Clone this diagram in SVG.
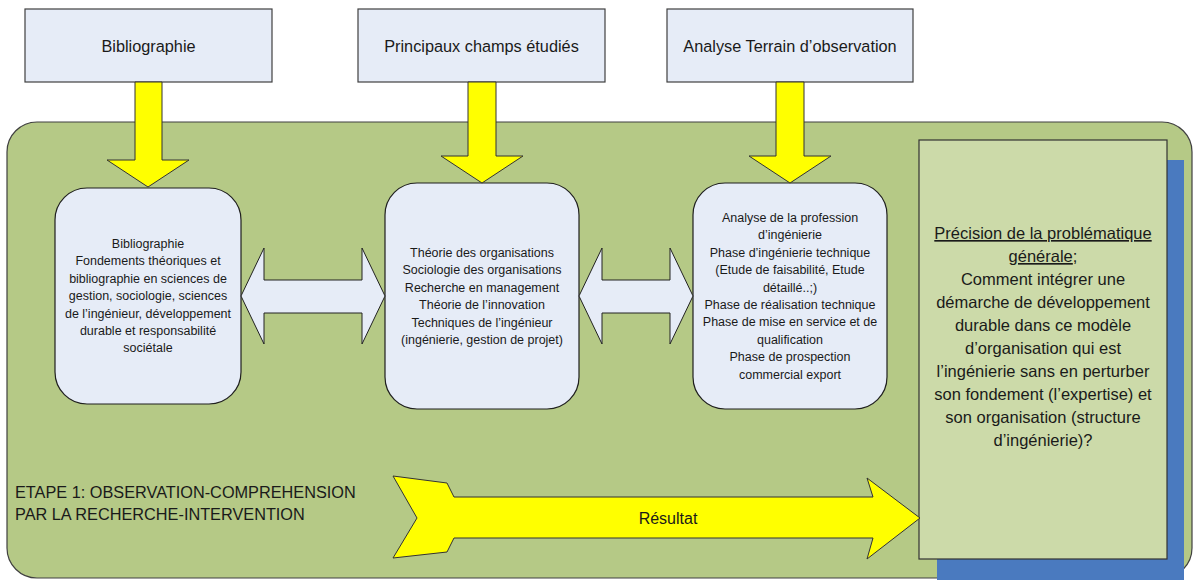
<svg xmlns="http://www.w3.org/2000/svg" width="1195" height="581" viewBox="0 0 1195 581">
<style>
text{font-family:"Liberation Sans",Arial,sans-serif;fill:#1a1a1a;text-anchor:middle}
.top{fill:#e6ecf7;stroke:#404040;stroke-width:1.2}
.inner{fill:#e6ecf7;stroke:#1f1f1f;stroke-width:1.2}
.yel{fill:#ffff00;stroke:#333;stroke-width:1}
.dbl{fill:#e6ecf7;stroke:#222;stroke-width:1}
.t16{font-size:16.3px}
.t12{font-size:12.5px}
.t165{font-size:16.5px}
</style>
<rect width="1195" height="581" fill="#ffffff"/>
<g id="stage">
<rect x="7" y="122" width="1185" height="456" rx="30" fill="#b5c986" stroke="#404040" stroke-width="1.2"/>
<text class="t16" x="15" y="498" style="text-anchor:start">ETAPE 1: OBSERVATION-COMPREHENSION</text>
<text class="t16" x="15" y="520" style="text-anchor:start">PAR LA RECHERCHE-INTERVENTION</text>
</g>
<g id="top-biblio">
<rect class="top" x="25" y="9" width="247" height="73"/>
<text class="t16" x="148.5" y="52">Bibliographie</text>
</g>
<g id="top-champs">
<rect class="top" x="358" y="9" width="247" height="73"/>
<text class="t16" x="481.5" y="52">Principaux champs étudiés</text>
</g>
<g id="top-terrain">
<rect class="top" x="667" y="9" width="246" height="73"/>
<text class="t16" x="790" y="52">Analyse Terrain d’observation</text>
</g>
<g id="box-biblio">
<rect class="inner" x="55" y="188" width="186" height="216" rx="32"/>
<text class="t12" x="148"><tspan x="148" y="248">Bibliographie</tspan><tspan x="148" y="265.4">Fondements théoriques et</tspan><tspan x="148" y="282.8">bibliographie en sciences de</tspan><tspan x="148" y="300.2">gestion, sociologie, sciences</tspan><tspan x="148" y="317.6">de l’ingénieur, développement</tspan><tspan x="148" y="335">durable et responsabilité</tspan><tspan x="148" y="352.4">sociétale</tspan></text>
</g>
<g id="box-champs">
<rect class="inner" x="385" y="183" width="194" height="226" rx="32"/>
<text class="t12" x="482"><tspan x="482" y="257">Théorie des organisations</tspan><tspan x="482" y="274.4">Sociologie des organisations</tspan><tspan x="482" y="291.8">Recherche en management</tspan><tspan x="482" y="309.2">Théorie de l’innovation</tspan><tspan x="482" y="326.6">Techniques de l’ingénieur</tspan><tspan x="482" y="344">(ingénierie, gestion de projet)</tspan></text>
</g>
<g id="box-terrain">
<rect class="inner" x="693" y="183" width="194" height="226" rx="32"/>
<text class="t12" x="790"><tspan x="790" y="222">Analyse de la profession</tspan><tspan x="790" y="239.4">d’ingénierie</tspan><tspan x="790" y="256.8">Phase  d’ingénierie technique</tspan><tspan x="790" y="274.2">(Etude de faisabilité, Etude</tspan><tspan x="790" y="291.6">détaillé..;)</tspan><tspan x="790" y="309">Phase de réalisation technique</tspan><tspan x="790" y="326.4">Phase de mise en service et de</tspan><tspan x="790" y="343.8">qualification</tspan><tspan x="790" y="361.2">Phase de prospection</tspan><tspan x="790" y="378.6">commercial export</tspan></text>
</g>
<g id="box-problematique">
<rect x="937" y="160" width="247" height="420" fill="#4a7abf"/>
<rect x="919" y="140" width="248" height="419" fill="#ccdaa9" stroke="#333" stroke-width="1.2"/>
<text class="t165" x="1043"><tspan x="1043" y="239" text-decoration="underline">Précision de la problématique</tspan><tspan x="1043" y="262"><tspan text-decoration="underline">générale</tspan>;</tspan><tspan x="1043" y="285">Comment intégrer une</tspan><tspan x="1043" y="308">démarche de développement</tspan><tspan x="1043" y="331">durable dans ce modèle</tspan><tspan x="1043" y="354">d’organisation qui est</tspan><tspan x="1043" y="377">l’ingénierie sans en perturber</tspan><tspan x="1043" y="400">son fondement (l’expertise) et</tspan><tspan x="1043" y="423">son organisation (structure</tspan><tspan x="1043" y="446">d’ingénierie)?</tspan></text>
</g>
<g id="connectors">
<polygon class="yel" points="135,82 162,82 162,160 189,160 148,187 107,160 135,160"/>
<polygon class="yel" points="468,82 496,82 496,156 523,156 482,183 441,156 468,156"/>
<polygon class="yel" points="776,82 804,82 804,156 831,156 790,183 749,156 776,156"/>
<polygon class="dbl" points="241,296 264,248 264,280 362,280 362,248 385,296 362,344 362,313 264,313 264,344"/>
<polygon class="dbl" points="579,296 602,248 602,280 670,280 670,248 693,296 670,344 670,313 602,313 602,344"/>
<polygon class="yel" points="393,476 447,483 454,497 873,497 867,478 920,518 867,559 873,538 454,538 447,552 393,558 417,518"/>
<text x="668" y="524" style="font-size:16px">Résultat</text>
</g>
</svg>
